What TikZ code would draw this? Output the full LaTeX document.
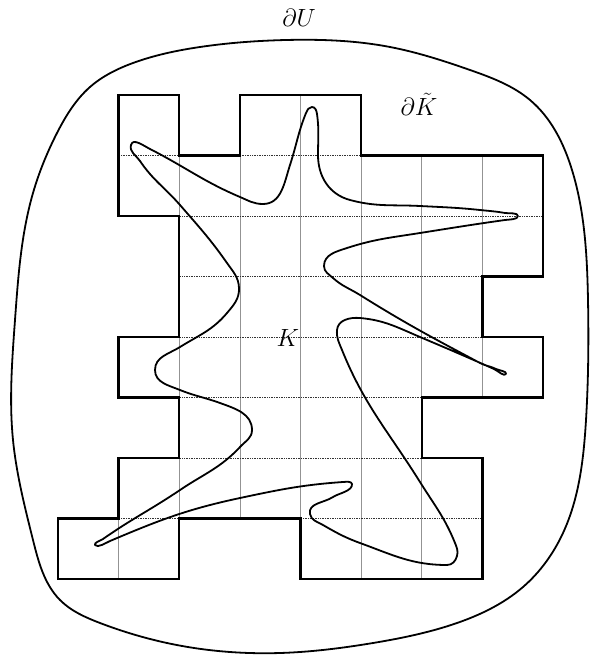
\documentclass[tikz,border=0pt]{standalone}
\usetikzlibrary{hobby}
\begin{document}
\begin{tikzpicture}[x=1pt,y=-1pt,
  outline/.style={line width=2.3pt, line join=miter},
  curve/.style={line width=1.8pt, line join=round},
  gridv/.style={line width=0.6pt, gray!85},
  gridh/.style={line width=0.7pt, densely dotted, black!80},
  lbl/.style={inner sep=0pt, font=\fontsize{34}{40}\selectfont}]
\useasboundingbox (0,0) rectangle (589,655);
% outer boundary dU
\draw[curve] plot[closed hobby] coordinates {
 (286,40) (390,47) (470,70) (530,100) (572,170) (588,300) (586,420)
 (563,533) (523,587) (457,623) (373,643) (280,653) (167,643) (100,623)
 (60,600) (33,540) (13,440) (15,320) (33,193) (57,133) (90,87) (133,63)
 (200,47)};
% grid of K tilde
\begin{scope}[shift={(58pt,-95pt)}, x=60.625pt, y=-60.5pt]
  \def\kpoly{(1,0)--(2,0)--(2,1)--(3,1)--(3,0)--(5,0)--(5,1)--(8,1)--(8,3)--(7,3)--(7,4)--(8,4)--(8,5)--(6,5)--(6,6)--(7,6)--(7,8)--(4,8)--(4,7)--(2,7)--(2,8)--(0,8)--(0,7)--(1,7)--(1,6)--(2,6)--(2,5)--(1,5)--(1,4)--(2,4)--(2,2)--(1,2)--cycle}
  \begin{scope}
    \clip \kpoly;
    \foreach \i in {1,...,7} {\draw[gridv] (\i,0) -- (\i,8);}
    \foreach \j in {1,...,7} {\draw[gridh] (0,\j) -- (8,\j);}
  \end{scope}
  \draw[outline] \kpoly;
\end{scope}
% the set K
\draw[curve] (131,145)
 to[out=75,in=153] (150,149)
 to[out=-27,in=157] (240,197)
 to[out=-23,in=180] (263,204)
 to[out=0,in=252] (290,165)
 to[out=72,in=248] (306,113)
 to[out=68,in=180] (312,107)
 to[out=0,in=98] (317,114)
 to[out=-82,in=90] (318,155)
 to[out=-90,in=165] (350,200)
 to[out=-15,in=177] (420,206)
 to[out=-3,in=174] (480,210)
 to[out=-6,in=170] (505,213)
 to[out=-10,in=90,looseness=0.7] (518,216)
 to[out=-90,in=8,looseness=0.7] (505,220)
 to[out=188,in=9] (420,233)
 to[out=189,in=18] (347,248)
 to[out=198,in=90] (324,266)
 to[out=270,in=138] (333,278)
 to[out=-42,in=148] (360,295)
 to[out=-32,in=152] (480,363)
 to[out=-28,in=153] (496,369)
 to[out=-27,in=65,looseness=0.7] (506,374)
 to[out=-115,in=-24,looseness=0.7] (494,369)
 to[out=156,in=-23] (420,337)
 to[out=157,in=-5] (360,318)
 to[out=175,in=85] (337,330)
 to[out=265,in=112] (342,350)
 to[out=-68,in=122] (420,482)
 to[out=-58,in=112] (455,543)
 to[out=-68,in=75] (457,556)
 to[out=-105,in=0] (447,565)
 to[out=180,in=-20] (360,543)
 to[out=160,in=-30] (323,525)
 to[out=150,in=-80] (310,514)
 to[out=100,in=213] (333,497)
 to[out=33,in=275,looseness=0.8] (352,484)
 to[out=95,in=4,looseness=0.8] (343,482)
 to[out=184,in=12] (240,498)
 to[out=192,in=23] (110,541)
 to[out=203,in=-55,looseness=0.7] (95,545)
 to[out=125,in=215,looseness=0.7] (103,539)
 to[out=35,in=214] (180,490)
 to[out=34,in=227] (240,447)
 to[out=47,in=270] (252,430)
 to[out=90,in=-20] (220,403)
 to[out=160,in=-22] (180,390)
 to[out=158,in=-90] (155,370)
 to[out=90,in=212] (180,347)
 to[out=32,in=230] (227,313)
 to[out=50,in=272] (239,288)
 to[out=92,in=-55] (227,263)
 to[out=125,in=-49] (180,205)
 to[out=131,in=-56] (140,161)
 to[out=124,in=-105] (131,145)
 -- cycle;
\node[lbl] (dU) at (299,18) {$\partial U$};
\node[lbl] (dK) at (419,104) {$\partial\tilde K$};
\node[lbl] (K) at (288,338) {$K$};
\end{tikzpicture}
\end{document}
